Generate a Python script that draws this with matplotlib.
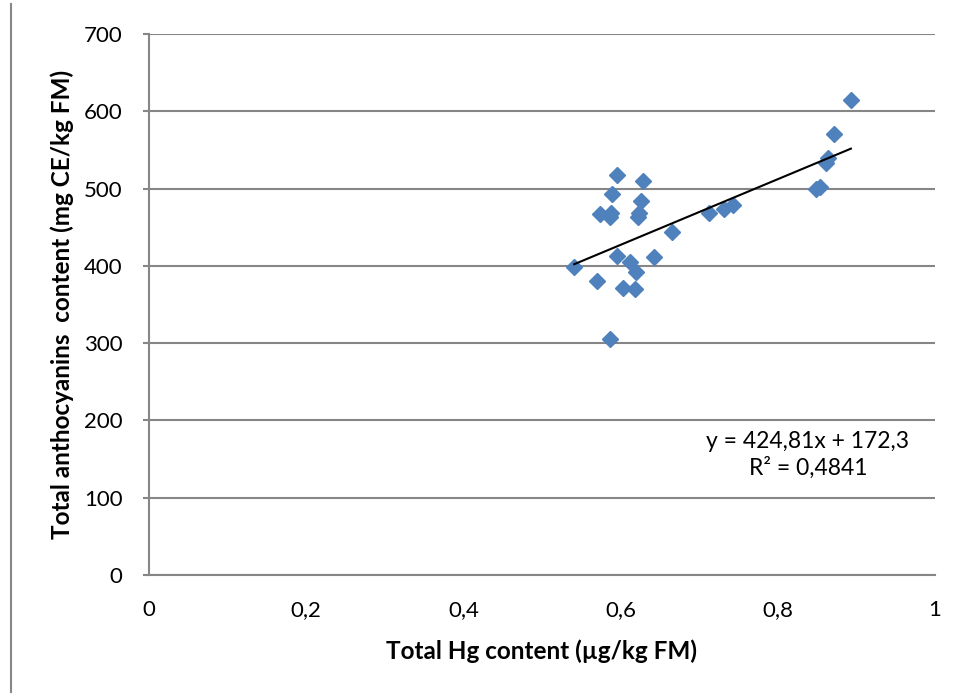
import matplotlib
matplotlib.use("Agg")
import matplotlib.pyplot as plt
import numpy as np
from matplotlib.lines import Line2D

# Data
hg = [0.541, 0.570, 0.587, 0.574, 0.588, 0.586, 0.589, 0.595, 0.628, 0.626,
      0.624, 0.622, 0.595, 0.612, 0.620, 0.603, 0.618, 0.643, 0.665, 0.712,
      0.731, 0.743, 0.849, 0.854, 0.861, 0.864, 0.872, 0.893]
anth = [399, 381, 305, 467, 469, 463, 493, 518, 510, 484,
        469, 463, 413, 405, 392, 371, 370, 412, 444, 469,
        474, 479, 500, 502, 533, 540, 570, 614]
slope = 424.81
intercept = 172.3
eq_text = "y = 424,81x + 172,3"
r2_text = "R² = 0,4841"
x_ticks = [0, 0.2, 0.4, 0.6, 0.8, 1]
x_tick_labels = ["0", "0,2", "0,4", "0,6", "0,8", "1"]
y_ticks = [0, 100, 200, 300, 400, 500, 600, 700]

plt.rcParams['font.family'] = ['Lato', 'DejaVu Sans']

fig = plt.figure(figsize=(9.58, 6.97), dpi=100)
ax = fig.add_axes([149/958, 1-575/697, (935-149)/958, (575-34)/697])

ax.set_xlim(0, 1)
ax.set_ylim(0, 700)
ax.set_yticks(y_ticks)
ax.set_xticks(x_ticks)
ax.set_xticklabels(x_tick_labels)
ax.yaxis.grid(True, color='#868686', lw=1.5)
ax.set_axisbelow(True)
for s in ['top', 'right']:
    ax.spines[s].set_visible(False)
for s in ['left', 'bottom']:
    ax.spines[s].set_color('#868686')
    ax.spines[s].set_linewidth(1.5)
ax.tick_params(axis='y', length=4, width=1.5, color='#868686', labelsize=16, pad=15)
ax.tick_params(axis='x', length=0, labelsize=16, pad=18)

ax.plot(hg, anth, linestyle='none', marker='D', markersize=7.8,
        color='#4F81BD', markeredgecolor='#4F81BD', zorder=3)

xl = np.array([min(hg), max(hg)])
ax.plot(xl, slope * xl + intercept, color='black', lw=1.5, zorder=4)

ax.set_xlabel("Total Hg content (µg/kg FM)", fontsize=17.5, fontweight='bold', labelpad=14)
ax.set_ylabel("Total anthocyanins  content (mg CE/kg FM)", fontsize=17.5, fontweight='bold', labelpad=7)

fig.text(808/958, 1-441/697, eq_text, ha='center', va='center', fontsize=16.5)
fig.text(808/958, 1-468/697, r2_text, ha='center', va='center', fontsize=16.5)

fig.add_artist(Line2D([11/958, 11/958], [1-4/697, 1-692/697], color='#868686', lw=1.5))

fig.savefig("out.png", dpi=100)
